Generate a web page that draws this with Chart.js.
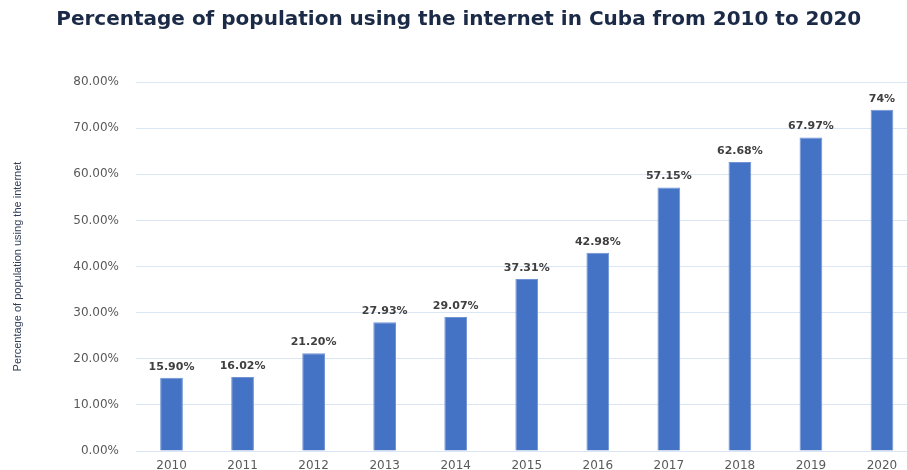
<!DOCTYPE html>
<html>
<head>
<meta charset="utf-8">
<script src="https://cdn.jsdelivr.net/npm/chart.js@4"></script>
<style>
  html, body { margin: 0; padding: 0; background: #fff; overflow: hidden; }
  #wrap { width: 907px; height: 470px; overflow: hidden; position: relative; }
  canvas { display: block; }
</style>
</head>
<body>
<div id="wrap"><canvas id="internetChart" width="936" height="476"></canvas></div>
<script>
// Dados
const anos = ['2010', '2011', '2012', '2013', '2014', '2015', '2016', '2017', '2018', '2019', '2020'];
const percentuais = [15.90, 16.02, 21.20, 27.93, 29.07, 37.31, 42.98, 57.15, 62.68, 67.97, 74];
const rotulos = ['15.90%', '16.02%', '21.20%', '27.93%', '29.07%', '37.31%', '42.98%', '57.15%', '62.68%', '67.97%', '74%'];
const ticksY = [0, 10, 20, 30, 40, 50, 60, 70, 80];

// Rótulos acima das barras
const rotulosPlugin = {
    id: 'rotulos',
    afterDatasetsDraw(chart) {
        const ctx = chart.ctx;
        const meta = chart.getDatasetMeta(0);
        ctx.save();
        ctx.font = 'bold 11px "DejaVu Sans"';
        ctx.fillStyle = '#404040';
        ctx.textAlign = 'center';
        ctx.textBaseline = 'middle';
        meta.data.forEach((bar, i) => {
            ctx.fillText(rotulos[i], bar.x, bar.y - 11);
        });
        ctx.restore();
    }
};

const ctx = document.getElementById('internetChart').getContext('2d');
new Chart(ctx, {
    type: 'bar',
    data: {
        labels: anos,
        datasets: [{
            label: 'Percentage of population using the internet',
            data: percentuais,
            backgroundColor: '#4472c4',
            borderColor: '#6f93d3',
            borderWidth: 1,
            barPercentage: 0.32,
            categoryPercentage: 1
        }]
    },
    options: {
        responsive: false,
        animation: false,
        layout: { padding: { left: 0, right: 18.5, top: 0, bottom: 3 } },
        plugins: {
            legend: { display: false },
            tooltip: { enabled: false },
            title: {
                display: true,
                text: 'Percentage of population using the internet in Cuba from 2010 to 2020',
                color: '#1b2a47',
                font: { family: '"DejaVu Sans"', size: 20, weight: 'bold' },
                padding: { top: 8, bottom: 50 }
            }
        },
        scales: {
            x: {
                grid: { display: false },
                border: { display: false },
                afterFit(scale) { scale.height = 22; },
                ticks: { color: '#595959', font: { family: '"DejaVu Sans"', size: 12 }, padding: 0 }
            },
            y: {
                min: 0,
                max: 80,
                afterBuildTicks(scale) {
                    scale.ticks = ticksY.map(v => ({ value: v }));
                },
                afterFit(scale) { scale.width = 136; },
                grid: { color: '#dae6f4', drawTicks: false },
                border: { display: false },
                ticks: {
                    color: '#595959',
                    font: { family: '"DejaVu Sans"', size: 12 },
                    padding: 17,
                    callback: v => v.toFixed(2) + '%'
                },
                title: {
                    display: true,
                    text: 'Percentage of population using the internet',
                    color: '#2f3d55',
                    font: { family: '"Liberation Sans Narrow", "Liberation Sans"', size: 11 },
                    padding: { top: 11, bottom: 4 }
                }
            }
        }
    },
    plugins: [rotulosPlugin]
});
</script>
</body>
</html>
